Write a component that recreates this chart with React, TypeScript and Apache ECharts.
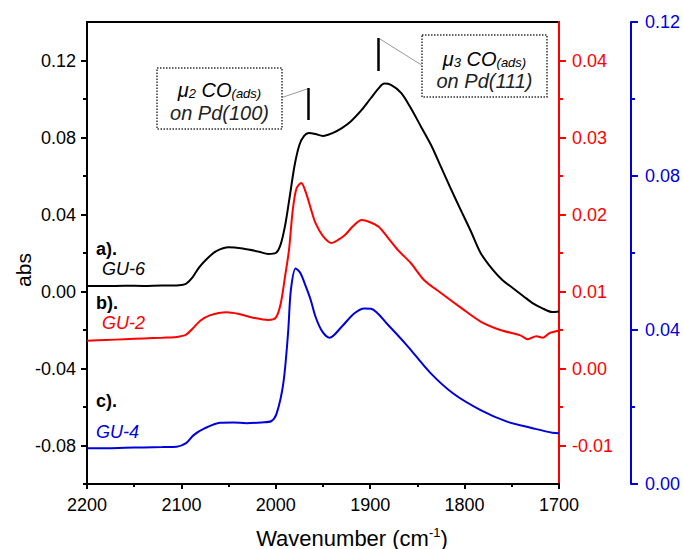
import React, { useEffect, useRef } from "react";
import * as echarts from "echarts";

// ---- data ----
const blackWn = [2200, 2180, 2160, 2140, 2120, 2110, 2100, 2095, 2088, 2081, 2072, 2063, 2050, 2035, 2018, 2008, 2000, 1995, 1990, 1985, 1980, 1975, 1970, 1965, 1958, 1950, 1940, 1930, 1920, 1909, 1900, 1890, 1885, 1878, 1867, 1857, 1846, 1835, 1825, 1815, 1804, 1793, 1783, 1770, 1760, 1749, 1738, 1728, 1718, 1707, 1700];
const blackAbs = [0.0029, 0.0028, 0.003, 0.0029, 0.0031, 0.0031, 0.0034, 0.004, 0.0075, 0.0127, 0.0174, 0.021, 0.023, 0.0223, 0.0207, 0.0195, 0.02, 0.0242, 0.0346, 0.05, 0.0657, 0.0761, 0.0808, 0.0823, 0.0818, 0.0808, 0.0823, 0.0849, 0.0886, 0.0943, 0.1, 0.1062, 0.108, 0.1073, 0.1031, 0.0953, 0.0855, 0.0756, 0.0647, 0.0538, 0.0423, 0.0309, 0.02, 0.0112, 0.006, 0.0018, -0.0023, -0.006, -0.0086, -0.0107, -0.0104];

const redWn = [2200, 2180, 2160, 2140, 2120, 2105, 2095, 2088, 2080, 2070, 2052, 2040, 2024, 2008, 2000, 1995, 1990, 1986, 1982, 1978, 1973, 1968, 1963, 1958, 1950, 1941, 1934, 1927, 1918, 1909, 1900, 1891, 1880, 1870, 1857, 1843, 1825, 1804, 1783, 1762, 1741, 1733, 1724, 1717, 1710, 1700];
const redAbs = [0.0036, 0.0037, 0.0038, 0.0039, 0.004, 0.0041, 0.0044, 0.0052, 0.0062, 0.0069, 0.0073, 0.0071, 0.0066, 0.0063, 0.0066, 0.0083, 0.0121, 0.0154, 0.0206, 0.0234, 0.0241, 0.0228, 0.0208, 0.0189, 0.0172, 0.0163, 0.0167, 0.0173, 0.0185, 0.0193, 0.019, 0.0184, 0.0168, 0.0153, 0.0137, 0.0115, 0.0098, 0.0079, 0.0061, 0.005, 0.0043, 0.0038, 0.0042, 0.004, 0.0046, 0.0049];

const blueWn = [2200, 2180, 2160, 2140, 2120, 2105, 2095, 2087, 2075, 2059, 2045, 2031, 2015, 2005, 1999, 1992, 1987, 1984, 1979, 1974, 1968, 1963, 1958, 1951, 1943, 1930, 1917, 1906, 1899, 1881, 1860, 1836, 1812, 1783, 1755, 1728, 1707, 1700];
const blueAbs = [0.0093, 0.0093, 0.0094, 0.0095, 0.0096, 0.0097, 0.0106, 0.0127, 0.0145, 0.0159, 0.016, 0.0158, 0.016, 0.0163, 0.0184, 0.0262, 0.0392, 0.0504, 0.056, 0.0548, 0.0512, 0.0478, 0.0435, 0.0397, 0.038, 0.0409, 0.0443, 0.0456, 0.0455, 0.0413, 0.0357, 0.0288, 0.0235, 0.0192, 0.0162, 0.0145, 0.0133, 0.0132];

const leftMajor = [-0.08, -0.04, 0, 0.04, 0.08, 0.12];
const leftMinor = [-0.1, -0.06, -0.02, 0.02, 0.06, 0.1];
const redMajor = [-0.01, 0, 0.01, 0.02, 0.03, 0.04];
const redMinor = [-0.005, 0.005, 0.015, 0.025, 0.035];
const blueMajor = [0, 0.04, 0.08, 0.12];
const blueMinor = [0.02, 0.06, 0.1];

const FONT = "'Liberation Sans', Arial, Helvetica, sans-serif";
const RED = "#ff0000";
const BLUE = "#0000dd";

const fmt2 = (v: number) => (Math.abs(v) < 1e-9 ? 0 : v).toFixed(2);
const pairs = (xs: number[], ys: number[]) => xs.map((x, i) => [x, ys[i]]);

function yAx(opts: any) {
  const { min, max, color, major, minor, offset, position, showLine, isMinor, tickLen, margin } = opts;
  return {
    type: "value",
    position,
    offset: offset || 0,
    min,
    max,
    splitLine: { show: false },
    axisLine: { show: showLine, onZero: false, lineStyle: { color, width: 2 } },
    axisTick: {
      show: true,
      inside: false,
      length: tickLen,
      customValues: isMinor ? minor : major,
      lineStyle: { color, width: 2 },
    },
    axisLabel: isMinor
      ? { show: false }
      : {
          show: true,
          customValues: major,
          formatter: fmt2,
          color,
          fontSize: 18,
          fontFamily: FONT,
          margin,
        },
  };
}

export default function App() {
  const ref = useRef<HTMLDivElement>(null);
  useEffect(() => {
    if (!ref.current) return;
    const chart = echarts.init(ref.current, null, { renderer: "svg" });
    const italic = (size: number, color: string) => ({ fontSize: size, fontStyle: "italic", fontFamily: FONT, color });
    const annoRich = {
      i: { ...italic(20, "#222"), lineHeight: 20, verticalAlign: "top" },
      s: { ...italic(13, "#222"), lineHeight: 12, padding: [11, 0, 0, 0], verticalAlign: "bottom" },
    };
    const line2 = (x: number, y: number, text: string) => ({
      type: "text", x, y,
      style: { text, fontSize: 20, fontStyle: "italic", fontFamily: FONT, fill: "#222", align: "center", verticalAlign: "middle", lineHeight: 20 },
    });
    chart.setOption({
      animation: false,
      backgroundColor: "#fff",
      grid: { left: 87, right: 119, top: 22, bottom: 65, show: true, borderColor: "#000", borderWidth: 2 },
      xAxis: {
        type: "value",
        min: 1700,
        max: 2200,
        interval: 100,
        inverse: true,
        splitLine: { show: false },
        axisLine: { onZero: false, lineStyle: { color: "#000", width: 2 } },
        axisTick: { length: 5, lineStyle: { width: 2, color: "#000" } },
        minorTick: { show: true, splitNumber: 2, length: 3, lineStyle: { width: 2, color: "#000" } },
        axisLabel: { color: "#000", fontSize: 18, fontFamily: FONT, margin: 12, formatter: (v: number) => String(Math.round(v)) },
      },
      yAxis: [
        yAx({ min: -0.1, max: 0.14, color: "#000", major: leftMajor, minor: leftMinor, position: "left", showLine: true, tickLen: 6, margin: 11 }),
        yAx({ min: -0.1, max: 0.14, color: "#000", major: leftMajor, minor: leftMinor, position: "left", showLine: false, isMinor: true, tickLen: 4 }),
        yAx({ min: -0.015, max: 0.045, color: RED, major: redMajor, minor: redMinor, position: "right", showLine: true, tickLen: 7, margin: 13 }),
        yAx({ min: -0.015, max: 0.045, color: RED, major: redMajor, minor: redMinor, position: "right", showLine: false, isMinor: true, tickLen: 4 }),
        yAx({ min: 0, max: 0.12, color: BLUE, major: blueMajor, minor: blueMinor, position: "right", offset: 72, showLine: true, tickLen: 7, margin: 14 }),
        yAx({ min: 0, max: 0.12, color: BLUE, major: blueMajor, minor: blueMinor, position: "right", offset: 72, showLine: false, isMinor: true, tickLen: 4 }),
      ],
      series: [
        { name: "GU-6", type: "line", yAxisIndex: 0, data: pairs(blackWn, blackAbs), showSymbol: false, smooth: 0.3, lineStyle: { color: "#000", width: 2 }, itemStyle: { color: "#000" } },
        { name: "GU-2", type: "line", yAxisIndex: 2, data: pairs(redWn, redAbs), showSymbol: false, smooth: 0.3, lineStyle: { color: RED, width: 2 }, itemStyle: { color: RED } },
        { name: "GU-4", type: "line", yAxisIndex: 4, data: pairs(blueWn, blueAbs), showSymbol: false, smooth: 0.3, lineStyle: { color: BLUE, width: 2 }, itemStyle: { color: BLUE } },
      ],
      graphic: [
        { type: "text", x: 23, y: 270, rotation: Math.PI / 2, style: { text: "abs", fontSize: 21, fontFamily: FONT, fill: "#000", align: "center", verticalAlign: "middle" } },
        {
          type: "text", x: 352, y: 538,
          style: {
            text: "{a|Wavenumber (cm}{b|-1}{a|)}", align: "center", verticalAlign: "middle",
            rich: {
              a: { fontSize: 22, fontFamily: FONT, color: "#000", lineHeight: 24 },
              b: { fontSize: 13, fontFamily: FONT, color: "#000", lineHeight: 13, verticalAlign: "top" },
            },
          },
        },
        // sample labels
        { type: "text", x: 96, y: 249, style: { text: "a).", fontSize: 18, fontWeight: "bold", fontFamily: FONT, fill: "#000", verticalAlign: "middle" } },
        { type: "text", x: 102, y: 269, style: { text: "GU-6", fontSize: 18, fontStyle: "italic", fontFamily: FONT, fill: "#000", verticalAlign: "middle" } },
        { type: "text", x: 96, y: 303, style: { text: "b).", fontSize: 18, fontWeight: "bold", fontFamily: FONT, fill: "#000", verticalAlign: "middle" } },
        { type: "text", x: 102, y: 323, style: { text: "GU-2", fontSize: 18, fontStyle: "italic", fontFamily: FONT, fill: RED, verticalAlign: "middle" } },
        { type: "text", x: 96, y: 401, style: { text: "c).", fontSize: 18, fontWeight: "bold", fontFamily: FONT, fill: "#000", verticalAlign: "middle" } },
        { type: "text", x: 96, y: 432, style: { text: "GU-4", fontSize: 18, fontStyle: "italic", fontFamily: FONT, fill: BLUE, verticalAlign: "middle" } },
        // annotation 1
        { type: "line", shape: { x1: 282, y1: 97.5, x2: 307, y2: 89 }, style: { stroke: "#999", lineWidth: 1 } },
        { type: "line", shape: { x1: 308.5, y1: 88, x2: 308.5, y2: 120 }, style: { stroke: "#000", lineWidth: 2.5 } },
        { type: "rect", shape: { x: 157, y: 68, width: 125, height: 61 }, style: { fill: "#fff", stroke: "#333", lineWidth: 1.5, lineDash: [1.5, 1.5] } },
        { type: "text", x: 219.5, y: 90, style: { text: "{i|μ}{s|2}{i| CO}{s|(ads)}", align: "center", verticalAlign: "middle", rich: annoRich } },
        line2(219.5, 113, "on Pd(100)"),
        // annotation 2
        { type: "line", shape: { x1: 421.5, y1: 65, x2: 380, y2: 39 }, style: { stroke: "#999", lineWidth: 1 } },
        { type: "line", shape: { x1: 378.5, y1: 38, x2: 378.5, y2: 71 }, style: { stroke: "#000", lineWidth: 2.5 } },
        { type: "rect", shape: { x: 422, y: 35, width: 125, height: 62 }, style: { fill: "#fff", stroke: "#333", lineWidth: 1.5, lineDash: [1.5, 1.5] } },
        { type: "text", x: 484.5, y: 59, style: { text: "{i|μ}{s|3}{i| CO}{s|(ads)}", align: "center", verticalAlign: "middle", rich: annoRich } },
        line2(484.5, 81, "on Pd(111)"),
      ],
    });
    return () => chart.dispose();
  }, []);
  return <div ref={ref} style={{ position: "fixed", left: 0, top: 0, width: 683, height: 549, background: "#fff" }} />;
}
